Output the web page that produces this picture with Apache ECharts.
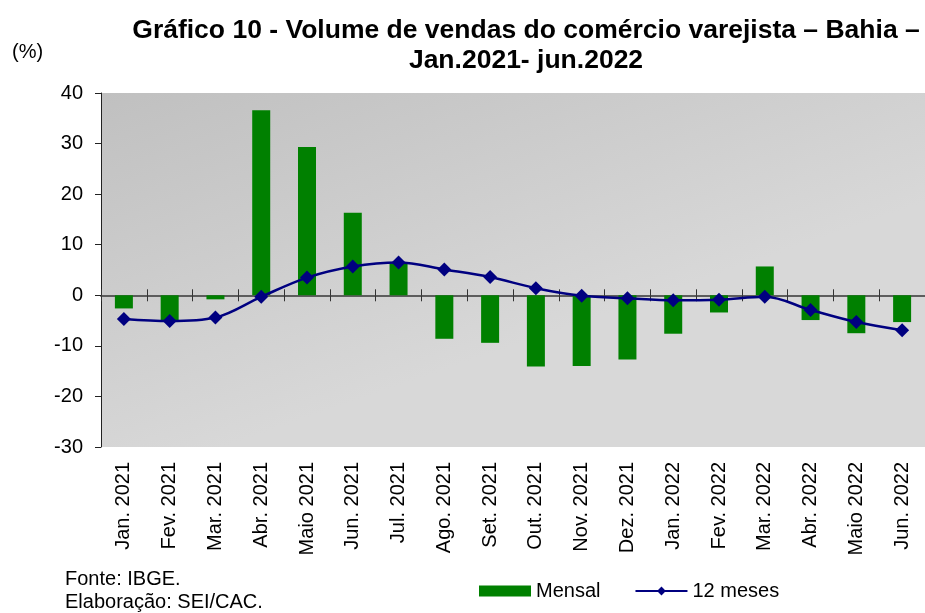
<!DOCTYPE html>
<html>
<head>
<meta charset="UTF-8">
<title>Volume de vendas do comércio varejista – Bahia</title>
<script src="https://cdn.jsdelivr.net/npm/echarts@6/dist/echarts.min.js"></script>
<style>
  html, body { margin: 0; padding: 0; background: #fff; }
  #chart { width: 925px; height: 613px; }
</style>
</head>
<body>
<div id="chart"></div>
<script>
// dados
var meses = ['Jan. 2021', 'Fev. 2021', 'Mar. 2021', 'Abr. 2021', 'Maio 2021', 'Jun. 2021',
  'Jul. 2021', 'Ago. 2021', 'Set. 2021', 'Out. 2021', 'Nov. 2021', 'Dez. 2021',
  'Jan. 2022', 'Fev. 2022', 'Mar. 2022', 'Abr. 2022', 'Maio 2022', 'Jun. 2022'];
var mensal = [-2.6, -5.0, -0.8, 36.6, 29.3, 16.3, 6.3, -8.6, -9.4,
  -14.1, -14.0, -12.7, -7.6, -3.4, 5.7, -4.9, -7.5, -5.3];
var dozeMeses = [-4.7, -5.1, -4.4, -0.3, 3.5, 5.7, 6.5, 5.1, 3.6,
  1.4, -0.1, -0.6, -1.0, -0.9, -0.3, -2.9, -5.3, -6.9];

var chart = echarts.init(document.getElementById('chart'));
var fonte = 'Arial, "Liberation Sans", sans-serif';

var option = {
  animation: false,
  textStyle: { fontFamily: fonte },
  grid: {
    left: 101, right: 0, top: 93, bottom: 166,
    show: true,
    borderWidth: 0,
    backgroundColor: {
      type: 'linear', x: 0, y: 0, x2: 0.15, y2: 1,
      colorStops: [{ offset: 0, color: '#c0c0c0' }, { offset: 1, color: '#d8d8d8' }]
    }
  },
  legend: {
    left: 474, top: 576,
    itemWidth: 52, itemHeight: 11, itemGap: 34,
    textStyle: { fontSize: 20, color: '#000', fontFamily: fonte },
    data: [{ name: 'Mensal', icon: 'rect' }, { name: '12 meses' }]
  },
  xAxis: [{
    // rótulos embaixo
    type: 'category', data: meses, position: 'bottom',
    axisLine: { show: false, onZero: false },
    axisTick: { show: false },
    axisLabel: { rotate: 90, margin: 15, fontSize: 20, color: '#000', fontFamily: fonte, interval: 0 }
  }, {
    // eixo no zero, marcas para baixo
    type: 'category', data: meses, position: 'bottom',
    axisLine: { onZero: true, onZeroAxisIndex: 0, lineStyle: { color: '#555', width: 1.5 } },
    axisTick: { show: true, interval: 0, length: 6, lineStyle: { color: '#333' } },
    axisLabel: { show: false }
  }, {
    // marcas para cima
    type: 'category', data: meses, position: 'top',
    axisLine: { onZero: true, onZeroAxisIndex: 1, lineStyle: { color: '#555', width: 1.5 } },
    axisTick: { show: true, interval: 0, length: 6, lineStyle: { color: '#333' } },
    axisLabel: { show: false }
  }],
  yAxis: [{
    type: 'value', min: -30, max: 40, interval: 10,
    axisLine: { show: true, lineStyle: { color: '#222', width: 1 } },
    axisTick: { show: true, length: 6, lineStyle: { color: '#222' } },
    splitLine: { show: false },
    axisLabel: { fontSize: 20, color: '#000', margin: 18, fontFamily: fonte }
  }, {
    type: 'value', min: -30, max: 40, interval: 10, position: 'left',
    show: false
  }],
  series: [{
    name: 'Mensal', type: 'bar', data: mensal,
    barWidth: 18,
    itemStyle: { color: '#008000' }
  }, {
    name: '12 meses', type: 'line', data: dozeMeses,
    smooth: 0.35,
    symbol: 'diamond', symbolSize: 14,
    lineStyle: { color: '#000080', width: 2.5 },
    itemStyle: { color: '#000080' }
  }],
  graphic: [{
    type: 'text', x: 526, y: 16,
    style: {
      text: 'Gráfico 10 - Volume de vendas do comércio varejista – Bahia –\nJan.2021- jun.2022',
      font: 'bold 26.5px ' + fonte, fill: '#000', align: 'center', lineHeight: 30
    }
  }, {
    type: 'text', left: 12, top: 42,
    style: { text: '(%)', font: '20px ' + fonte, fill: '#000' }
  }, {
    type: 'text', left: 65, top: 568,
    style: { text: 'Fonte: IBGE.\nElaboração: SEI/CAC.', font: '20px ' + fonte, fill: '#000', lineHeight: 23 }
  }]
};

chart.setOption(option);
</script>
</body>
</html>
